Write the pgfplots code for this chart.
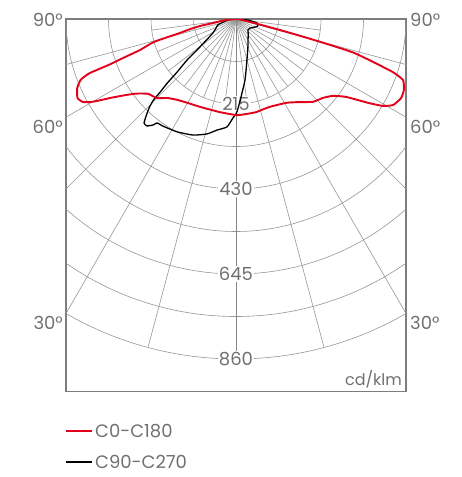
\documentclass[border=0pt]{standalone}
\usepackage{pgfplots}
\usepackage{pgfplotstable}
\pgfplotsset{compat=1.18}
\usepackage{fontspec}
\setmainfont{Poppins}
\definecolor{lred}{RGB}{226,0,26}
\definecolor{txtgray}{RGB}{112,112,112}
\definecolor{gridgray}{RGB}{150,150,150}
\definecolor{boxgray}{RGB}{125,125,125}
\newcommand\lbl{\fontsize{18bp}{20bp}\selectfont}
\newcommand\sml{\fontsize{16bp}{18bp}\selectfont}

% gamma (deg, negative = left half plane), intensity cd/klm
\pgfplotstableread{
g I
-90 0
-85 20
-82 40
-80 60
-79 93
-77.5 120
-76 147
-74.4 215
-72.1 255
-71 300
-70.2 339
-69.7 395
-68.6 422
-66.5 438
-63.5 448
-61.5 440
-59.9 417
-57.9 376
-55.5 340
-53.2 315
-49.6 292
-45 283
-41.1 265
-36.1 253
-30 245
-22 240
-10 239
0 243
5 242
12 241
20.6 238
30.8 247
36 260
42.9 286
47.8 297
51.6 313
54.7 341
57.7 398
59.4 432
61.3 453
64.4 463
67.1 461
69.9 450
71.3 419
72.9 352
74 310
74.5 260
75 200
75.5 150
76 110
77 60
78 35
80 18
85 6
90 0
}\redtab

\pgfplotstableread{
g I
-90 0
-85 15
-80 25
-72 48
-65 56
-59 68
-55 88
-52 119
-50 162
-48 200
-47 238
-46 268
-45.5 293
-44.5 312
-43.4 327
-41.5 351
-39.8 352
-38 340
-37.2 330
-34.3 328
-27.6 322
-20.3 313
-14.2 300
-9.7 285
-4.8 274
-1.7 250
0 240
1 230
3 205
8.4 156
15 107
23 77
30 61
40 48
47.5 41
57 42
65 50
72 58
79 54
83 38
86 25
90 0
}\blacktab

\begin{document}
\begin{tikzpicture}
\path[use as bounding box] (0bp,0bp) rectangle (462bp,-477bp);
\begin{axis}[
  at={(66bp,-19bp)}, anchor=north west,
  x=0.395349bp, y=0.395349bp,
  xmin=-430, xmax=430, ymin=-943, ymax=0,
  axis line style={draw=boxgray, line width=1.1bp},
  ticks=none,
  clip=true,
]
% circles
\pgfplotsinvokeforeach{1,...,8}{
  \draw[gridgray, line width=0.6bp] (axis cs:0,0) circle[radius=107.5*#1];
}
% dense radial lines
\pgfplotsinvokeforeach{-82.5,-67.5,-52.5,-37.5,-22.5,-7.5,7.5,22.5,37.5,52.5,67.5,82.5}{
  \draw[gridgray, line width=0.6bp] (axis cs:0,0) -- (axis cs:{215*sin(#1)},{-215*cos(#1)});
}
% main radial lines
\pgfplotsinvokeforeach{-75,-60,...,75}{
  \draw[gridgray, line width=0.6bp] (axis cs:0,0) -- (axis cs:{860*sin(#1)},{-860*cos(#1)});
}
\draw[gridgray!90!black, line width=1bp] (axis cs:0,0) -- (axis cs:0,-860);
% scale labels
\foreach \v in {215,430,645,860}{
  \edef\tmp{\noexpand\node[fill=white, inner sep=1bp, text=txtgray, font=\noexpand\lbl] at (axis cs:0,-\v) {\v};}
  \tmp
}
\node[anchor=base east, text=txtgray, font=\sml, inner sep=0pt] at (axis cs:420,-928) {cd/klm};
\addplot[black, line width=1.3bp, line join=round, smooth, tension=0.3] table[x expr={\thisrow{I}*sin(\thisrow{g})}, y expr={-\thisrow{I}*cos(\thisrow{g})}] {\blacktab};
\addplot[lred, line width=1.9bp, line join=round, smooth, tension=0.3] table[x expr={\thisrow{I}*sin(\thisrow{g})}, y expr={-\thisrow{I}*cos(\thisrow{g})}] {\redtab};
\end{axis}
% angle labels
\begin{scope}[every node/.style={text=txtgray, font=\lbl, inner sep=0pt}]
\node[anchor=east] at (63bp,-20bp) {90°};
\node[anchor=east] at (63bp,-127bp) {60°};
\node[anchor=east] at (63bp,-323bp) {30°};
\node[anchor=west] at (410bp,-20bp) {90°};
\node[anchor=west] at (410bp,-127bp) {60°};
\node[anchor=west] at (410bp,-323bp) {30°};
\draw[lred, line width=1.6bp] (66bp,-431bp) -- (92bp,-431bp);
\node[anchor=west] at (95bp,-431bp) {C0-C180};
\draw[black, line width=1.6bp] (66bp,-462bp) -- (92bp,-462bp);
\node[anchor=west] at (95bp,-462bp) {C90-C270};
\end{scope}
\end{tikzpicture}
\end{document}
